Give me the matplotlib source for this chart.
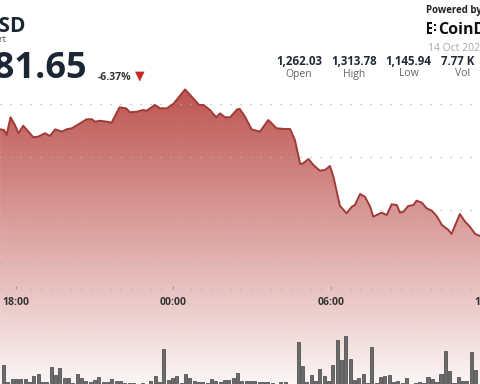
import numpy as np
import matplotlib
matplotlib.use("Agg")
import matplotlib.pyplot as plt
from matplotlib.patches import Rectangle

# ---------------- data ----------------
times = ["17:24", "17:33", "17:39", "17:48", "17:58", "18:06", "18:17", "18:29", "18:40", "18:51",
         "19:07", "19:18", "19:30", "19:45", "19:56", "20:08", "20:27", "20:42", "20:54", "21:01",
         "21:12", "21:28", "21:39", "21:57", "22:12", "22:21", "22:36", "22:51", "22:59", "23:18",
         "23:30", "23:45", "00:00", "00:27", "00:42", "00:59", "01:09", "01:24", "01:38", "01:47",
         "01:58", "02:10", "02:26", "02:32", "02:44", "02:59", "03:18", "03:37", "03:56", "04:15",
         "04:27", "04:38", "04:50", "04:57", "05:09", "05:20", "05:35", "05:47", "05:58", "06:06",
         "06:21", "06:36", "06:48", "06:55", "07:07", "07:18", "07:30", "07:37", "07:56", "08:08",
         "08:19", "08:31", "08:38", "08:46", "08:57", "09:09", "09:16", "09:28", "09:39", "09:51",
         "10:02", "10:14", "10:29", "10:36", "10:55", "11:07", "11:18", "11:30", "11:41", "11:50"]
prices = [1276.1, 1275.5, 1270.8, 1287.5, 1280.2, 1272.4, 1279.5, 1273.9, 1268.6, 1269.2,
          1272.4, 1269.8, 1276.1, 1273.9, 1276.1, 1277.1, 1281.8, 1285.6, 1285.6, 1283.3,
          1284.2, 1283.3, 1282.4, 1296.9, 1295.9, 1292.2, 1292.7, 1294.3, 1293.7, 1299.1,
          1295.9, 1295.9, 1300.0, 1313.78, 1306.9, 1299.1, 1299.1, 1294.3, 1287.5, 1291.2,
          1287.5, 1287.5, 1295.0, 1295.3, 1288.0, 1276.1, 1273.9, 1284.9, 1277.1, 1276.4,
          1276.4, 1266.0, 1243.4, 1244.1, 1248.1, 1242.5, 1237.1, 1237.7, 1241.5, 1231.4,
          1203.8, 1196.9, 1203.1, 1204.7, 1215.1, 1212.5, 1203.1, 1193.7, 1197.5, 1195.3,
          1205.4, 1204.7, 1197.5, 1198.4, 1203.8, 1204.7, 1208.8, 1206.9, 1201.6, 1199.3,
          1194.3, 1185.8, 1181.1, 1177.4, 1196.2, 1189.0, 1184.2, 1177.4, 1175.5, 1176.0]

vol_start = "17:32"
vol_step_min = 9.9
volumes = [190, 23, 47, 47, 47, 47, 23, 80, 97, 23,
           23, 167, 90, 160, 57, 57, 13, 103, 57, 33,
           23, 40, 73, 23, 23, 50, 33, 33, 13, 13,
           7, 3, 13, 3, 30, 77, 23, 350, 40, 57,
           80, 7, 97, 57, 33, 23, 23, 7, 47, 33,
           23, 40, 40, 57, 107, 33, 33, 30, 33, 20,
           20, 20, 10, 0, 20, 20, 5, 5, 417, 180,
           23, 87, 33, 147, 80, 30, 190, 440, 240, 480,
           253, 40, 57, 97, 13, 373, 13, 67, 80, 87,
           23, 33, 13, 57, 3, 13, 20, 7, 73, 47,
           23, 97, 330, 130, 7, 67, 30, 30, 317, 140]

x_tick_labels = ["18:00", "00:00", "06:00", "12:00"]
grid_levels = [1300, 1250, 1200, 1150, 1125]
axis_level = 1125
stat_values = ["1,262.03", "1,313.78", "1,145.94", "7.77 K"]
stat_labels = ["Open", "High", "Low", "Vol"]
last_price = "1,181.65"
change_pct = "-6.37%"


def to_h(s):
    hh, mm = map(int, s.split(":"))
    h = hh + mm / 60.0
    if h < 17:
        h += 24
    return h


t = np.array([to_h(s) for s in times])
p = np.array(prices)
vt = to_h(vol_start) + np.arange(len(volumes)) * vol_step_min / 60.0

FONT = ["Open Sans", "DejaVu Sans"]
plt.rcParams["font.family"] = FONT

W, H = 480, 384
fig = plt.figure(figsize=(4.8, 3.84), dpi=100)
fig.patch.set_facecolor("white")

XMIN, XMAX = 17.398, 35.684
YMIN, YMAX = 1035.85, 1398.1

ax = fig.add_axes([0, 0, 1, 1])
ax.set_xlim(XMIN, XMAX)
ax.set_ylim(YMIN, YMAX)
ax.patch.set_alpha(0)

# gradient fill under the line
rows = np.arange(H)
alpha = np.clip(0.9 - (rows - 100) * 0.003, 0.03, 0.95)
img = np.zeros((H, 2, 4))
img[..., 0] = 185 / 255
img[..., 1] = 72 / 255
img[..., 2] = 68 / 255
img[..., 3] = alpha[:, None]
poly = ax.fill_between(t, p, YMIN, color="none", lw=0)
im = ax.imshow(img, extent=(XMIN, XMAX, YMIN, YMAX), origin="upper",
               aspect="auto", interpolation="bilinear", zorder=1)
im.set_clip_path(poly.get_paths()[0], transform=ax.transData)

for lvl in grid_levels:
    ax.axhline(lvl, color="#b3b3b3", lw=0.9, ls=(0, (1, 7)), zorder=2)

ax.plot(t, p, color="#a03a36", lw=1.4, zorder=3, solid_joinstyle="round")

for side in ["top", "left", "right"]:
    ax.spines[side].set_visible(False)
ax.spines["bottom"].set_position(("data", axis_level))
ax.spines["bottom"].set_color("none")
ax.set_yticks([])
tick_h = [to_h(s) for s in x_tick_labels]
in_view = [(h, s) for h, s in zip(tick_h, x_tick_labels) if h <= XMAX]
ax.set_xticks([h for h, _ in in_view])
ax.set_xticklabels([s for _, s in in_view])
ax.tick_params(axis="x", direction="in", length=2.5, width=0.8, color="#9a9a9a",
               pad=5.5, labelsize=7.5, labelcolor="#333333")
for lbl in ax.get_xticklabels():
    lbl.set_fontweight("bold")
# labels whose tick lies just beyond the right edge (partly visible)
for h, s in zip(tick_h, x_tick_labels):
    if h > XMAX:
        ax.annotate(s, xy=(h, axis_level), xytext=(0, -5.5), textcoords="offset points",
                    ha="center", va="top", fontsize=7.5, fontweight="bold",
                    color="#333333", annotation_clip=False)

# volume bars
vax = fig.add_axes([0, 0, 1, 0.16])
vax.set_xlim(XMIN, XMAX)
vax.set_ylim(0, max(volumes) * 1.28)
vax.bar(vt, volumes, width=0.115, color="#6b6b6b", edgecolor="#3f3f3f", lw=0.5)
vax.axis("off")
vax.patch.set_alpha(0)


def fx(px):
    return px / W


def fy(py):
    return 1 - py / H


# header texts
fig.text(fx(25.5), fy(32), "BNB-USD", ha="right", va="baseline", fontsize=15,
         fontweight="bold", color="#1a2634")
fig.text(fx(5.5), fy(42), "Price Chart", ha="right", va="baseline", fontsize=6.5,
         color="#555555")
fig.text(fx(88), fy(78), last_price, ha="right", va="baseline", fontsize=26,
         fontweight="bold", color="#1b2735")
fig.text(fx(98), fy(80), change_pct, ha="left", va="baseline", fontsize=7.5,
         fontweight="bold", color="#333333")
fig.text(fx(139.5), fy(75.5), "▼", ha="center", va="center", fontsize=9,
         color="#c62828", family="DejaVu Sans")

fig.text(fx(426.5), fy(13), "Powered by", ha="left", va="baseline", fontsize=7,
         fontweight="bold", color="#222222")
# logo mark
for (lx, ly, lw_, lh) in [(427, 22, 2, 12), (429, 22, 3, 2), (429, 27, 3, 2), (429, 32, 3, 2),
                          (434, 24, 2, 2), (434, 29, 2, 2)]:
    fig.add_artist(Rectangle((fx(lx), fy(ly + lh)), lw_ / W, lh / H,
                             transform=fig.transFigure, color="#111111", lw=0))
fig.text(fx(438.5), fy(33.5), "CoinDesk", ha="left", va="baseline", fontsize=11.5,
         fontweight="bold", color="#111111")
fig.text(fx(428), fy(51), "14 Oct 2025, 11:45", ha="left", va="baseline", fontsize=7.5,
         color="#a8a8a8")

stat_x = [299, 354, 408.5, 457.5]
label_x = [299, 354, 409, 463]
for sx, v in zip(stat_x, stat_values):
    fig.text(fx(sx), fy(65), v, ha="center", va="baseline", fontsize=8.3,
             fontweight="bold", color="#1f2a36")
for lx, lab in zip(label_x, stat_labels):
    fig.text(fx(lx), fy(76.5), lab, ha="center", va="baseline", fontsize=7.5,
             color="#666666")

fig.savefig("out.png", dpi=100)
